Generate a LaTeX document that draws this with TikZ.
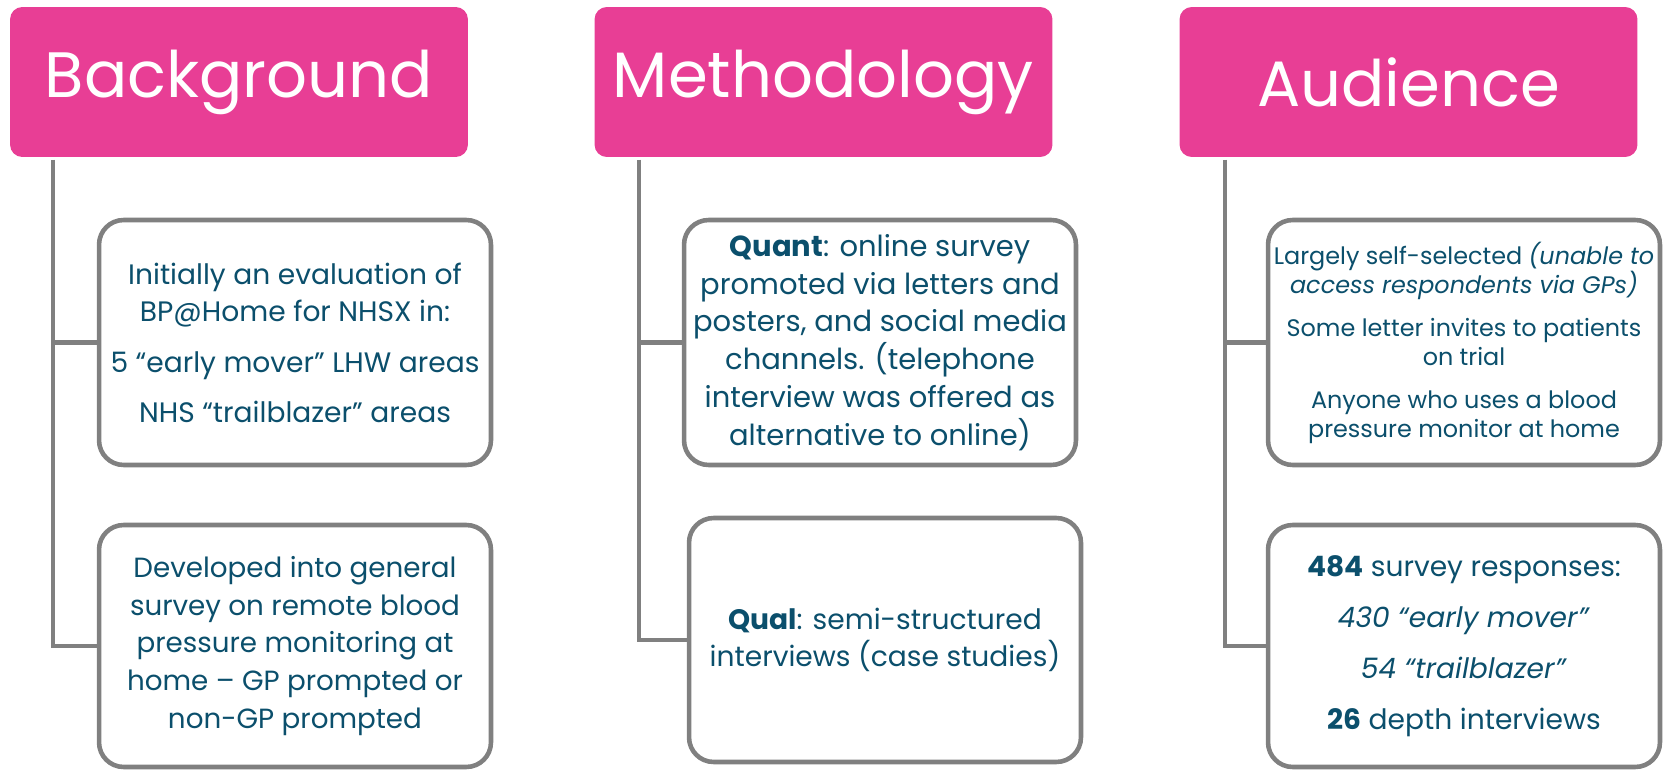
\documentclass[tikz,border=0pt]{standalone}
\usepackage{fontspec}
\setmainfont{Poppins}
\usepackage{tikz}
\usetikzlibrary{positioning,calc}

\definecolor{headpink}{HTML}{E83E95}
\definecolor{textteal}{HTML}{0B4F6C}
\definecolor{linegray}{HTML}{808080}

\begin{document}
\begin{tikzpicture}[x=0.02cm, y=-0.02cm,
    header/.style={rectangle, rounded corners=7pt, fill=headpink, text=white,
        minimum width=9.16cm, minimum height=3cm, inner sep=0pt,
        font=\fontsize{36.5pt}{44pt}\selectfont},
    item/.style={rectangle, rounded corners=14pt, draw=linegray, line width=2.6pt,
        fill=white, text=textteal, align=center, inner sep=0pt,
        minimum width=7.84cm, minimum height=4.9cm,
        font=\fontsize{16pt}{21.5pt}\selectfont},
    link/.style={draw=linegray, line width=2.8pt}]
    \useasboundingbox (0,0) rectangle (1667,770);

    % column headers
    \node[header] (bg) at (239, 82) {Background};
    \node[header] (meth) at (823.5, 82) {Methodology};
    \node[header] (aud) at (1408.5, 82) {Audience};

    % stems under the headers
    \coordinate (bgstem) at (53, 160);
    \coordinate (methstem) at (639, 160);
    \coordinate (audstem) at (1225, 160);

    % background boxes
    \node[item] (bg1) at (295, 342.5) {Initially an evaluation of\\
        BP@Home for NHSX in:\\[7pt]
        5 “early mover” LHW areas\\[7pt]
        NHS “trailblazer” areas};
    \node[item, minimum height=4.84cm, font=\fontsize{15.8pt}{21.5pt}\selectfont] (bg2) at (295, 646) {Developed into general\\
        survey on remote blood\\
        pressure monitoring at\\
        home – GP prompted or\\
        non-GP prompted};

    % methodology boxes
    \node[item, font=\fontsize{16.5pt}{21.5pt}\selectfont] (meth1) at (880, 342.5) {\textbf{Quant}: online survey\\
        promoted via letters and\\
        posters, and social media\\
        channels. (telephone\\
        interview was offered as\\
        alternative to online)};
    \node[item, minimum height=4.88cm] (meth2) at (885, 640) {\textbf{Qual}: semi-structured\\
        interviews (case studies)};

    % audience boxes
    \node[item, font=\fontsize{13.6pt}{16.5pt}\selectfont] (aud1) at (1464, 342.5) {Largely self-selected \textit{(unable to}\\
        \textit{access respondents via GPs)}\\[8pt]
        Some letter invites to patients\\
        on trial\\[8pt]
        Anyone who uses a blood\\
        pressure monitor at home};
    \node[item, minimum height=4.84cm, font=\fontsize{16pt}{29pt}\selectfont] (aud2) at (1464, 646) {\textbf{484} survey responses:\\
        \textit{430 “early mover”}\\
        \textit{54 “trailblazer”}\\
        \textbf{26} depth interviews};

    % connectors
    \draw[link] (bgstem) |- (bg1.west);
    \draw[link] (bgstem) |- (bg2.west);
    \draw[link] (methstem) |- (meth1.west);
    \draw[link] (methstem) |- (meth2.west);
    \draw[link] (audstem) |- (aud1.west);
    \draw[link] (audstem) |- (aud2.west);
\end{tikzpicture}
\end{document}
